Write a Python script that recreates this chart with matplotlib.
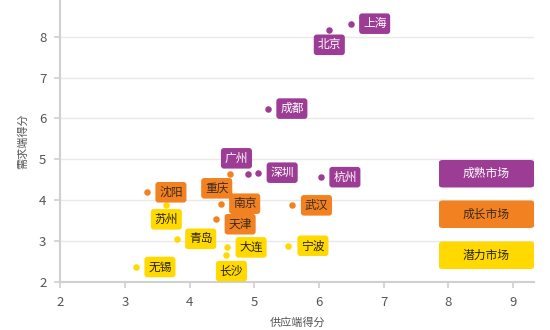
import matplotlib.pyplot as plt
from matplotlib.patches import FancyBboxPatch

plt.rcParams['font.family'] = ['Noto Sans CJK SC', 'DejaVu Sans']

# 城市得分：供应端 (x) / 需求端 (y)
cities = ['上海', '北京', '成都', '广州', '深圳', '杭州',
          '重庆', '南京', '天津', '武汉', '沈阳',
          '苏州', '青岛', '大连', '长沙', '无锡', '宁波']
supply = [6.49, 6.16, 5.21, 4.91, 5.06, 6.03,
          4.62, 4.48, 4.41, 5.59, 3.34,
          3.64, 3.80, 4.58, 4.57, 3.17, 5.52]
demand = [8.32, 8.17, 6.24, 4.63, 4.67, 4.56,
          4.63, 3.91, 3.53, 3.87, 4.19,
          3.87, 3.05, 2.84, 2.65, 2.36, 2.88]
tier = [0, 0, 0, 0, 0, 0,
        1, 1, 1, 1, 1,
        2, 2, 2, 2, 2, 2]
tiers = ['成熟市场', '成长市场', '潜力市场']

fill = ['#9c3c94', '#f28121', '#ffd900']
ink = ['white', '#3b2a1c', '#2b2500']

# 标签相对圆点的偏移 (像素, y 向下为正)
offsets = {
    '上海': (24, 0), '北京': (0, 15), '成都': (24, 0), '广州': (-12, -16),
    '深圳': (24, 0), '杭州': (24, 0), '重庆': (-13, 14), '南京': (24, 0),
    '天津': (24, 5), '武汉': (24, 0), '沈阳': (24, 0), '苏州': (0, 14),
    '青岛': (24, 0), '大连': (24, 0), '长沙': (5, 16), '无锡': (24, 0),
    '宁波': (25, 0),
}

fig = plt.figure(figsize=(5.5, 3.3), dpi=100)
ax = fig.add_axes([0.1096, 0.1464, 0.8619, 0.8536])

ax.set_xlim(2, 9.33)
ax.set_ylim(2, 8.9)
ax.set_xticks(range(2, 10))
ax.set_yticks(range(2, 9))
ax.grid(axis='y', color='#e9e9e9', linewidth=1)
ax.set_axisbelow(True)
for s in ['top', 'right']:
    ax.spines[s].set_visible(False)
for s in ['left', 'bottom']:
    ax.spines[s].set_color('#d0d0d0')
    ax.spines[s].set_linewidth(1.5)
ax.tick_params(colors='#d0d0d0', labelcolor='#555555', labelsize=9.5,
               length=4, width=1.2, pad=6)

ax.set_xlabel('供应端得分', fontsize=8, color='#555555', labelpad=6)
ax.set_ylabel('需求端得分', fontsize=8, color='#555555', labelpad=8)

for name, x, y, t in zip(cities, supply, demand, tier):
    ax.scatter(x, y, s=22, color=fill[t], zorder=3, linewidths=0)
    dx, dy = offsets[name]
    ax.annotate(name, (x, y), xytext=(dx, -dy), textcoords='offset pixels',
                ha='center', va='center', fontsize=8.5, color=ink[t],
                zorder=4,
                bbox=dict(boxstyle='round,pad=0.32,rounding_size=0.25',
                          fc=fill[t], ec='none'))

# 右侧图例色块 (轴坐标)
box_tops = [160, 200.5, 241.5]
for i, name in enumerate(tiers):
    top = 1 - box_tops[i] / 281.7
    h = 27.5 / 281.7
    x0 = (439 - 60.3) / 474
    w = (534 - 439) / 474
    ax.add_patch(FancyBboxPatch((x0, top - h), w, h, transform=ax.transAxes,
                                boxstyle='round,pad=0,rounding_size=0.008',
                                fc=fill[i], ec='none', clip_on=False, zorder=3))
    ax.text(x0 + w / 2, top - h / 2, name, transform=ax.transAxes,
            ha='center', va='center', fontsize=8.5, color=ink[i], zorder=4)

fig.savefig('out.png', dpi=100)
